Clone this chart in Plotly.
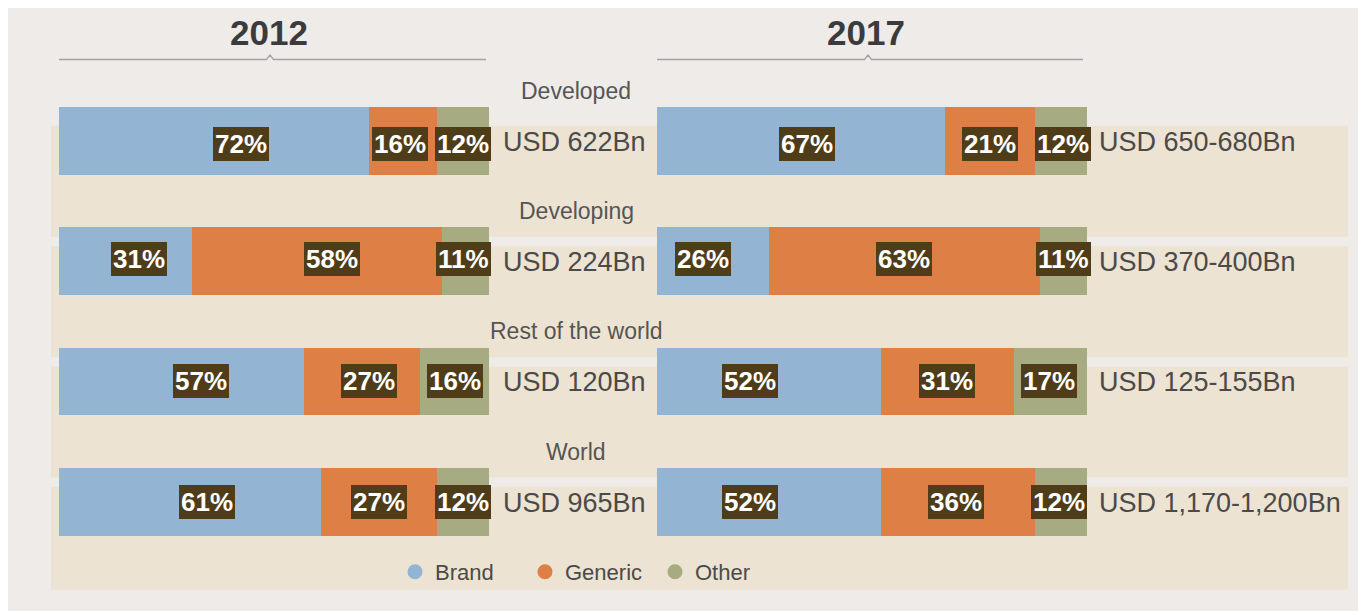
import plotly.graph_objects as go

# ---------------- data ----------------
categories = ["Developed", "Developing", "Rest of the world", "World"]
years = ["2012", "2017"]
series = ["Brand", "Generic", "Other"]
brand_2012 = [72, 31, 57, 61]
generic_2012 = [16, 58, 27, 27]
other_2012 = [12, 11, 16, 12]
brand_2017 = [67, 26, 52, 52]
generic_2017 = [21, 63, 31, 36]
other_2017 = [12, 11, 17, 12]
market_2012 = ["USD 622Bn", "USD 224Bn", "USD 120Bn", "USD 965Bn"]
market_2017 = ["USD 650-680Bn", "USD 370-400Bn", "USD 125-155Bn", "USD 1,170-1,200Bn"]

# ---------------- styling ----------------
colors = {"Brand": "#93b4d3", "Generic": "#de7f45", "Other": "#a6ab82"}
LABEL_BG = "#4f3d1a"
FONT = "Liberation Sans, Arial, sans-serif"
# hand-placed label nudges (pixels) as in the original infographic
label_dx = {
    "2012": [[27, -3.5, 0], [13.5, 14.5, -1.5], [19.5, 7, 0], [16.5, 0, 0]],
    "2017": [[6, 0, 2], [-10, 0, 0], [-19, 0, -1.5], [-19, -2, -2]],
}
label_dy = [-3.5, 2, 0, 0]

W, H = 1366, 611
OFF = 8  # page body margin
def px(x):
    return (x - OFF) / W
def py(y):
    return 1 - (y - OFF) / H

ROW0, ROWSTEP = 140.8, 120.33  # pixel centre of first row, row spacing

data = {
    "2012": {"Brand": brand_2012, "Generic": generic_2012, "Other": other_2012, "market": market_2012, "axis": "x"},
    "2017": {"Brand": brand_2017, "Generic": generic_2017, "Other": other_2017, "market": market_2017, "axis": "x2"},
}

fig = go.Figure()
annotations = []

for yr in years:
    d = data[yr]
    ax = d["axis"]
    for s in series:
        fig.add_trace(go.Bar(
            x=d[s], y=categories, orientation="h", name=s,
            marker=dict(color=colors[s], line=dict(width=0)),
            xaxis=ax, yaxis="y", width=67.5 / ROWSTEP, showlegend=False, hoverinfo="skip",
        ))
    for i, cat in enumerate(categories):
        start = 0
        for j, s in enumerate(series):
            v = d[s][i]
            annotations.append(dict(
                x=start + v / 2, y=cat, xref=ax, yref="y",
                text=f"<b>{v}%</b>", showarrow=False,
                xanchor="center", yanchor="middle",
                font=dict(family=FONT, size=26, color="white"),
                bgcolor=LABEL_BG, borderpad=2, borderwidth=0,
                xshift=label_dx[yr][i][j], yshift=label_dy[i],
            ))
            start += v
        annotations.append(dict(
            x=start, y=cat, xref=ax, yref="y", text=d["market"][i],
            showarrow=False, xanchor="left", yanchor="middle",
            xshift=12 if yr == "2012" else 10, yshift=-1,
            font=dict(family=FONT, size=27, color="#4a4a4a"),
        ))

for cat in categories:
    annotations.append(dict(
        x=px(576), y=cat, xref="paper", yref="y", text=cat, showarrow=False,
        xanchor="center", yanchor="middle",
        yshift=50, font=dict(family=FONT, size=23, color="#555555"),
    ))

for txt, xc in [("2012", 268.5), ("2017", 866)]:
    annotations.append(dict(x=px(xc), y=py(32), xref="paper", yref="paper", text=f"<b>{txt}</b>",
                            showarrow=False, xanchor="center", yanchor="middle",
                            font=dict(family=FONT, size=35, color="#3b3b3d")))

for s in series:
    fig.add_trace(go.Scatter(
        x=[None], y=[None], mode="markers", name=s,
        marker=dict(color=colors[s], size=15, symbol="circle"),
        xaxis="x", yaxis="y", showlegend=True,
    ))

shapes = []
for i in range(len(categories)):
    shapes.append(dict(type="rect", xref="paper", yref="y", x0=px(51), x1=px(1348),
                       y0=i - 15 / ROWSTEP, y1=i + (96 if i < 3 else 88) / ROWSTEP,
                       fillcolor="#ede3d2", line=dict(width=0), layer="below"))
def rule(x0, xc, x1, y):
    return (f"M {px(x0)},{py(y)} L {px(xc-3.5)},{py(y)} L {px(xc)},{py(y-4.5)} "
            f"L {px(xc+3.5)},{py(y)} L {px(x1)},{py(y)}")
for (a, c, b) in [(59, 270, 486), (657, 868, 1083)]:
    shapes.append(dict(type="path", xref="paper", yref="paper", path=rule(a, c, b, 59.5),
                       line=dict(color="#a3a3a3", width=1.3), layer="below"))

r0 = ROW0 - OFF
fig.update_layout(
    width=W, height=H,
    margin=dict(l=0, r=0, t=0, b=0),
    paper_bgcolor="#eeebe8", plot_bgcolor="rgba(0,0,0,0)",
    barmode="stack", bargap=0,
    xaxis=dict(domain=[px(59), px(489)], range=[0, 100], visible=False, fixedrange=True),
    xaxis2=dict(domain=[px(657), px(1087)], range=[0, 100], visible=False, anchor="y", fixedrange=True),
    yaxis=dict(domain=[0, 1], type="category", categoryorder="array", categoryarray=categories,
               range=[(H - r0) / ROWSTEP, -r0 / ROWSTEP], visible=False, fixedrange=True),
    shapes=shapes, annotations=annotations,
    showlegend=True,
    legend=dict(orientation="h", x=px(395), y=py(572), xanchor="left", yanchor="middle",
                entrywidth=85, entrywidthmode="pixels",
                font=dict(family=FONT, size=22, color="#4a4a4a"), bgcolor="rgba(0,0,0,0)",
                itemclick=False, itemdoubleclick=False, traceorder="normal"),
)

fig.write_html("out.html")
